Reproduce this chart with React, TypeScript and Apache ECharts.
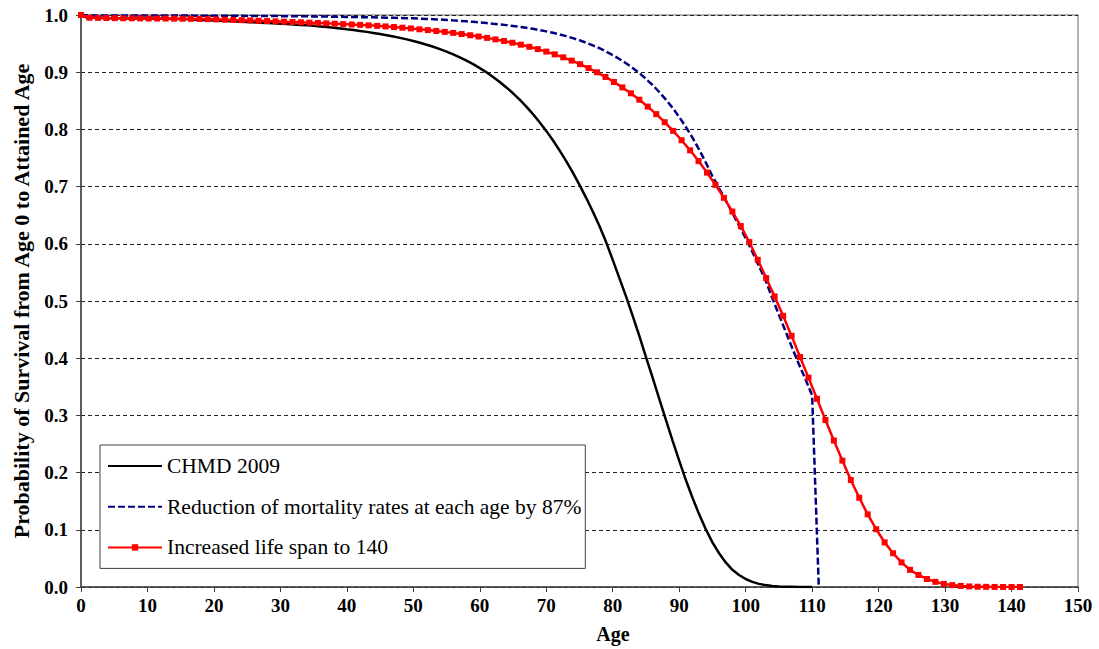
import React, { useEffect, useRef } from "react";
import * as echarts from "echarts";

const ages: number[] = Array.from({ length: 112 }, (_, i) => i);

const chmd2009: number[] = [
  1.0, 0.9952, 0.995, 0.9947, 0.9945, 0.9943, 0.9942, 0.994, 0.9939, 0.9938,
  0.9937, 0.9936, 0.9935, 0.9933, 0.9931, 0.9928, 0.9924, 0.9919, 0.9914, 0.991,
  0.9905, 0.99, 0.9894, 0.9889, 0.9883, 0.9878, 0.9872, 0.9866, 0.986, 0.9854,
  0.9848, 0.9841, 0.9834, 0.9827, 0.9819, 0.981, 0.98, 0.979, 0.9778, 0.9765,
  0.975, 0.9736, 0.9721, 0.9705, 0.9687, 0.9667, 0.9646, 0.9624, 0.96, 0.9574,
  0.9546, 0.9515, 0.9481, 0.9444, 0.9404, 0.936, 0.9312, 0.926, 0.9203, 0.914,
  0.9072, 0.8998, 0.8917, 0.8829, 0.8734, 0.8631, 0.8519, 0.8398, 0.8267, 0.8126,
  0.7974, 0.781, 0.7634, 0.7446, 0.7245, 0.7031, 0.6804, 0.6564, 0.631, 0.603,
  0.572, 0.54, 0.508, 0.474, 0.439, 0.402, 0.366, 0.329, 0.292, 0.256,
  0.221, 0.187, 0.156, 0.127, 0.101, 0.078, 0.059, 0.043, 0.03, 0.021,
  0.014, 0.009, 0.0055, 0.0033, 0.0019, 0.001, 0.0005, 0.0003, 0.0001, 0.00005,
  0.00002, 0,
];

const reducedMortality: number[] = [
  1.0, 0.9994, 0.9993, 0.9993, 0.9993, 0.9993, 0.9992, 0.9992, 0.9992, 0.9992,
  0.9992, 0.9992, 0.9992, 0.9991, 0.9991, 0.9991, 0.999, 0.9989, 0.9989, 0.9988,
  0.9988, 0.9987, 0.9986, 0.9985, 0.9985, 0.9984, 0.9983, 0.9982, 0.9982, 0.9981,
  0.998, 0.9979, 0.9978, 0.9977, 0.9976, 0.9975, 0.9974, 0.9972, 0.9971, 0.9969,
  0.9967, 0.9965, 0.9963, 0.9961, 0.9959, 0.9956, 0.9954, 0.9951, 0.9948, 0.9945,
  0.9942, 0.9937, 0.9932, 0.9927, 0.9921, 0.9914, 0.9906, 0.9898, 0.989, 0.988,
  0.9869, 0.986, 0.9848, 0.9837, 0.9823, 0.9809, 0.9792, 0.9776, 0.9758, 0.9736,
  0.9714, 0.9689, 0.9661, 0.963, 0.9596, 0.9558, 0.9516, 0.947, 0.9419, 0.9362,
  0.93, 0.923, 0.9157, 0.9075, 0.8985, 0.8883, 0.8775, 0.8654, 0.852, 0.8377,
  0.8218, 0.8042, 0.7855, 0.7647, 0.7422, 0.718, 0.697, 0.676, 0.654, 0.632,
  0.61, 0.586, 0.561, 0.536, 0.505, 0.476, 0.447, 0.418, 0.39, 0.363,
  0.335, 0,
];

// Ages of the stretched life table (life span 110 -> 140)
const extendedAges: number[] = [
  0, 1.27, 2.55, 3.82, 5.09, 6.36, 7.64, 8.91, 10.18, 11.45,
  12.73, 14, 15.27, 16.55, 17.82, 19.09, 20.36, 21.64, 22.91, 24.18,
  25.45, 26.73, 28, 29.27, 30.55, 31.82, 33.09, 34.36, 35.64, 36.91,
  38.18, 39.45, 40.73, 42, 43.27, 44.55, 45.82, 47.09, 48.36, 49.64,
  50.91, 52.18, 53.45, 54.73, 56, 57.27, 58.55, 59.82, 61.09, 62.36,
  63.64, 64.91, 66.18, 67.45, 68.73, 70, 71.27, 72.55, 73.82, 75.09,
  76.36, 77.64, 78.91, 80.18, 81.45, 82.73, 84, 85.27, 86.55, 87.82,
  89.09, 90.36, 91.64, 92.91, 94.18, 95.45, 96.73, 98, 99.27, 100.55,
  101.82, 103.09, 104.36, 105.64, 106.91, 108.18, 109.45, 110.73, 112, 113.27,
  114.55, 115.82, 117.09, 118.36, 119.64, 120.91, 122.18, 123.45, 124.73, 126,
  127.27, 128.55, 129.82, 131.09, 132.36, 133.64, 134.91, 136.18, 137.45, 138.73,
  140, 141.27,
];
const extendedSurvival: number[] = chmd2009;

const seriesNames = [
  "CHMD 2009",
  "Reduction of mortality rates at each age by 87%",
  "Increased life span to 140",
];
const xTitle = "Age";
const yTitle = "Probability of Survival from Age 0 to Attained Age";

const SERIF = "Liberation Serif";

export default function App() {
  const ref = useRef<HTMLDivElement>(null);
  useEffect(() => {
    if (!ref.current) return;
    const chart = echarts.init(ref.current, undefined, { renderer: "svg" });
    const pairs = (xs: number[], ys: number[], n: number) =>
      xs.slice(0, n).map((x, i) => [x, ys[i]]);
    chart.setOption({
      animation: false,
      backgroundColor: "#fff",
      textStyle: { fontFamily: SERIF },
      grid: {
        left: 81,
        right: 21,
        top: 15,
        bottom: 62,
        show: true,
        borderColor: "#9a9a9a",
        borderWidth: 1.5,
      },
      xAxis: {
        type: "value",
        min: 0,
        max: 150,
        interval: 10,
        axisLine: { show: true, lineStyle: { color: "#404040", width: 1.5 } },
        axisTick: { show: true, length: 5, lineStyle: { color: "#404040", width: 1 } },
        axisLabel: {
          margin: 9,
          color: "#000",
          fontFamily: SERIF,
          fontWeight: "bold",
          fontSize: 19,
        },
        splitLine: { show: false },
      },
      yAxis: {
        type: "value",
        min: 0,
        max: 1,
        interval: 0.1,
        axisLine: { show: true, lineStyle: { color: "#404040", width: 1.5 } },
        axisTick: { show: true, length: 5, lineStyle: { color: "#404040", width: 1 } },
        axisLabel: {
          margin: 13,
          color: "#000",
          fontFamily: SERIF,
          fontWeight: "bold",
          fontSize: 19,
          formatter: (v: number) => v.toFixed(1),
        },
        splitLine: {
          show: true,
          lineStyle: { color: "#222", width: 1, type: [4, 3] },
        },
      },
      legend: {
        orient: "vertical",
        left: 100,
        top: 445,
        padding: [10, 4, 10, 7],
        itemWidth: 54,
        itemHeight: 8,
        itemGap: 18.7,
        backgroundColor: "#fff",
        borderColor: "#404040",
        borderWidth: 1,
        borderRadius: 0,
        textStyle: {
          fontFamily: SERIF,
          fontSize: 21.5,
          color: "#000",
          lineHeight: 22,
        },
        data: [
          { name: seriesNames[0], itemStyle: { opacity: 0 } },
          { name: seriesNames[1], itemStyle: { opacity: 0 } },
          { name: seriesNames[2] },
        ],
      },
      graphic: [
        {
          type: "text",
          x: 613,
          y: 634,
          style: {
            text: xTitle,
            fontFamily: SERIF,
            fontWeight: "bold",
            fontSize: 20,
            fill: "#000",
            align: "center",
            verticalAlign: "middle",
          },
        },
        {
          type: "text",
          x: 21,
          y: 301,
          rotation: Math.PI / 2,
          style: {
            text: yTitle,
            fontFamily: SERIF,
            fontWeight: "bold",
            fontSize: 22,
            fill: "#000",
            align: "center",
            verticalAlign: "middle",
          },
        },
      ],
      series: [
        {
          name: seriesNames[0],
          type: "line",
          data: pairs(ages, chmd2009, 111),
          symbol: "none",
          lineStyle: { color: "#000", width: 2.5 },
          itemStyle: { color: "#000" },
          z: 2,
        },
        {
          name: seriesNames[1],
          type: "line",
          data: pairs(ages, reducedMortality, 112),
          symbol: "none",
          lineStyle: { color: "#000080", width: 2.5, type: [7, 3] },
          itemStyle: { color: "#000080" },
          z: 3,
        },
        {
          name: seriesNames[2],
          type: "line",
          data: pairs(extendedAges, extendedSurvival, 112),
          symbol: "rect",
          symbolSize: 6,
          showAllSymbol: true,
          lineStyle: { color: "#ff0000", width: 2.5 },
          itemStyle: { color: "#ff0000" },
          z: 4,
        },
      ],
    });
    return () => chart.dispose();
  }, []);
  return (
    <div
      ref={ref}
      style={{ position: "fixed", left: 0, top: 0, width: 1099, height: 649 }}
    />
  );
}
